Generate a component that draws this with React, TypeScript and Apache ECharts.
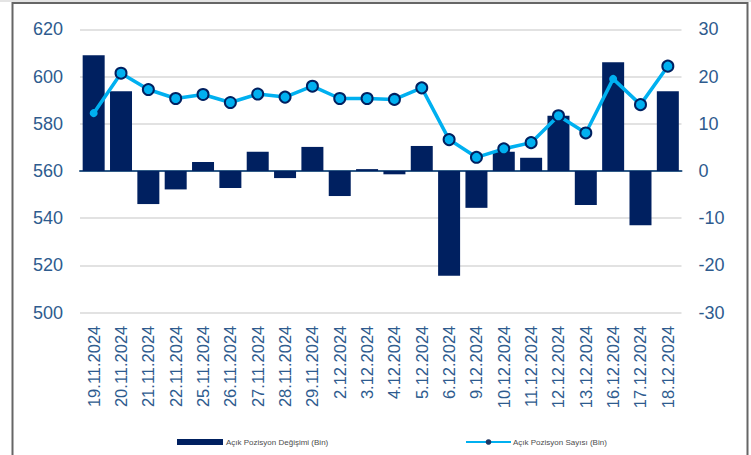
import React, { useEffect, useRef } from "react";
import * as echarts from "echarts";

const categories = [
  "19.11.2024", "20.11.2024", "21.11.2024", "22.11.2024", "25.11.2024", "26.11.2024",
  "27.11.2024", "28.11.2024", "29.11.2024", "2.12.2024", "3.12.2024", "4.12.2024",
  "5.12.2024", "6.12.2024", "9.12.2024", "10.12.2024", "11.12.2024", "12.12.2024",
  "13.12.2024", "16.12.2024", "17.12.2024", "18.12.2024",
];

const changeValues = [
  24.5, 16.9, -7.0, -3.9, 1.9, -3.6, 4.1, -1.5, 5.1, -5.3, 0.4, -0.7,
  5.3, -22.2, -7.8, 4.1, 2.8, 11.7, -7.2, 23.0, -11.5, 16.9,
];

const positionValues = [
  584.5, 601.4, 594.5, 590.7, 592.4, 589.0, 592.6, 591.3, 595.9, 590.7, 590.7, 590.3,
  595.2, 573.3, 565.8, 569.4, 572.0, 583.4, 576.1, 599.0, 588.1, 604.4,
];

// points drawn as small plain dots in the original
const plainPoints = [0, 19];

const barName = "Açık Pozisyon Değişimi (Bin)";
const lineName = "Açık Pozisyon Sayısı (Bin)";

const NAVY = "#002060";
const CYAN = "#00B0F0";
const LABEL = "#2E5B8E";
const FONT = "'Liberation Sans', Arial, sans-serif";

export default function App() {
  const ref = useRef<HTMLDivElement>(null);

  useEffect(() => {
    if (!ref.current) return;
    const chart = echarts.init(ref.current, undefined, { renderer: "svg" });

    const lineData = positionValues.map((v, i) =>
      plainPoints.includes(i)
        ? { value: v, symbolSize: 8, itemStyle: { borderWidth: 0, color: CYAN } }
        : v
    );

    chart.setOption({
      animation: false,
      backgroundColor: "#ffffff",
      textStyle: { fontFamily: FONT },
      graphic: [
        {
          type: "rect",
          shape: { x: 0, y: 0, width: 751, height: 2 },
          style: { fill: "#e4e4e4" },
          silent: true,
        },
        {
          type: "rect",
          shape: { x: 12.5, y: 3, width: 735, height: 470 },
          style: { fill: "none", stroke: "#666666", lineWidth: 2 },
          silent: true,
        },
      ],
      grid: { left: 80, right: 69.5, top: 29.3, bottom: 142.3, containLabel: false },
      legend: [
        {
          left: 172,
          top: 433,
          itemWidth: 46,
          itemHeight: 6,
          itemGap: 10,
          selectedMode: false,
          icon: "rect",
          textStyle: { fontSize: 8, color: "#4d4d4d", fontFamily: FONT, padding: [0, 0, 0, -2] },
          data: [{ name: barName }],
        },
        {
          left: 460,
          top: 433,
          itemWidth: 45,
          itemHeight: 7,
          selectedMode: false,
          textStyle: { fontSize: 8, color: "#4d4d4d", fontFamily: FONT, padding: [0, 0, 0, -3] },
          data: [{ name: lineName, itemStyle: { color: "#1F3864", borderWidth: 0 } }],
        },
      ],
      xAxis: {
        type: "category",
        data: categories,
        axisLine: { show: true, lineStyle: { color: "#2F5A86", width: 2 } },
        axisTick: { show: false },
        axisLabel: {
          rotate: 90,
          interval: 0,
          margin: 13,
          fontSize: 16.5,
          color: LABEL,
          fontFamily: FONT,
        },
      },
      yAxis: [
        {
          type: "value",
          min: 500,
          max: 620,
          interval: 20,
          position: "left",
          axisLine: { show: false },
          axisTick: { show: false },
          axisLabel: { fontSize: 18, color: LABEL, margin: 17, fontFamily: FONT },
          splitLine: { show: true, lineStyle: { color: "#D9D9D9", width: 1.5 } },
        },
        {
          type: "value",
          min: -30,
          max: 30,
          interval: 10,
          position: "right",
          axisLine: { show: false },
          axisTick: { show: false },
          axisLabel: { fontSize: 18, color: LABEL, margin: 17, fontFamily: FONT },
          splitLine: { show: false },
        },
      ],
      series: [
        {
          name: barName,
          type: "bar",
          yAxisIndex: 1,
          data: changeValues,
          barWidth: 22,
          itemStyle: { color: NAVY },
        },
        {
          name: lineName,
          type: "line",
          yAxisIndex: 0,
          data: lineData,
          symbol: "circle",
          symbolSize: 11,
          lineStyle: { color: CYAN, width: 3.5 },
          itemStyle: { color: CYAN, borderColor: NAVY, borderWidth: 2 },
          z: 3,
        },
      ],
    });

    return () => chart.dispose();
  }, []);

  return (
    <div
      ref={ref}
      style={{ position: "fixed", left: 0, top: 0, width: 751, height: 455, background: "#fff" }}
    />
  );
}
